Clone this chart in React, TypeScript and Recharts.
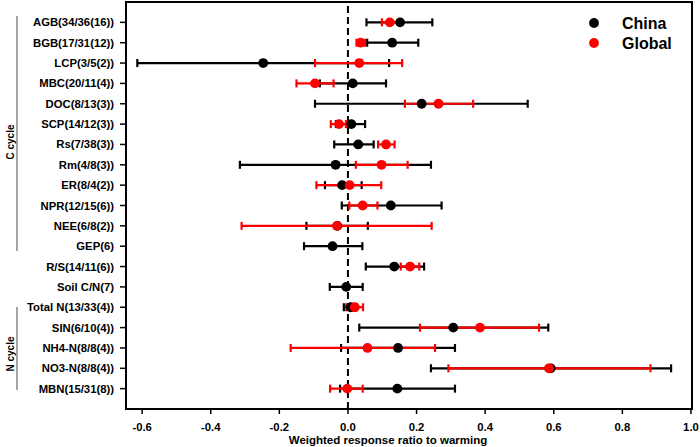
import React from "react";
import {
  ScatterChart,
  Scatter,
  XAxis,
  YAxis,
  ErrorBar,
  ReferenceLine,
  ReferenceArea,
} from "recharts";

const categories = [
  "AGB(34/36(16))",
  "BGB(17/31(12))",
  "LCP(3/5(2))",
  "MBC(20/11(4))",
  "DOC(8/13(3))",
  "SCP(14/12(3))",
  "Rs(7/38(3))",
  "Rm(4/8(3))",
  "ER(8/4(2))",
  "NPR(12/15(6))",
  "NEE(6/8(2))",
  "GEP(6)",
  "R/S(14/11(6))",
  "Soil C/N(7)",
  "Total N(13/33(4))",
  "SIN(6/10(4))",
  "NH4-N(8/8(4))",
  "NO3-N(8/8(4))",
  "MBN(15/31(8))",
];

const chinaMean = [0.152, 0.129, -0.247, 0.014, 0.215, 0.010, 0.030, -0.036, -0.017, 0.125, -0.031, -0.045, 0.135, -0.005, 0.008, 0.307, 0.146, 0.591, 0.144];
const chinaLow = [0.054, 0.056, -0.614, -0.082, -0.096, -0.035, -0.040, -0.315, -0.067, -0.018, -0.121, -0.128, 0.052, -0.053, -0.012, 0.033, -0.020, 0.242, -0.023];
const chinaHigh = [0.246, 0.205, 0.120, 0.111, 0.524, 0.050, 0.075, 0.242, 0.040, 0.273, 0.058, 0.042, 0.222, 0.043, 0.026, 0.584, 0.312, 0.942, 0.312];

const globalMean: (number | null)[] = [0.122, 0.037, 0.033, -0.096, 0.264, -0.026, 0.111, 0.098, 0.005, 0.043, -0.032, null, 0.181, null, 0.020, 0.385, 0.057, 0.586, -0.002];
const globalLow: (number | null)[] = [0.099, 0.025, -0.096, -0.150, 0.166, -0.050, 0.088, 0.023, -0.092, 0.004, -0.310, null, 0.154, null, -0.005, 0.210, -0.167, 0.293, -0.052];
const globalHigh: (number | null)[] = [0.152, 0.050, 0.158, -0.042, 0.365, -0.006, 0.136, 0.174, 0.097, 0.086, 0.244, null, 0.208, null, 0.044, 0.557, 0.254, 0.882, 0.043];

const xTicks = [-0.6, -0.4, -0.2, 0.0, 0.2, 0.4, 0.6, 0.8, 1.0];
const seriesNames = ["China", "Global"];
const seriesColors = ["#000000", "#ff0000"];

const yTicks = categories.map((_, i) => i + 1);

const chinaData = categories.map((c, i) => ({
  name: c,
  y: i + 1,
  x: chinaMean[i],
  err: [chinaMean[i] - chinaLow[i], chinaHigh[i] - chinaMean[i]],
}));

const globalData = categories
  .map((c, i) => ({ c, i }))
  .filter(({ i }) => globalMean[i] !== null)
  .map(({ c, i }) => ({
    name: c,
    y: i + 1,
    x: globalMean[i] as number,
    err: [
      (globalMean[i] as number) - (globalLow[i] as number),
      (globalHigh[i] as number) - (globalMean[i] as number),
    ],
  }));

const FONT = "'Liberation Sans', Arial, sans-serif";

const X_MIN = -0.647;
const X_MAX = 1.003;

const Hidden = () => <g />;
const dot = (color: string) => (props: any) => (
  <circle cx={props.cx} cy={props.cy} r={4.9} fill={color} />
);

export default function App() {
  return (
    <div style={{ position: "absolute", left: 0, top: 0, width: 700, height: 447, background: "#fff" }}>
      <ScatterChart
        width={700}
        height={447}
        margin={{ top: 2, right: 8, bottom: 0, left: 0 }}
      >
        <XAxis
          type="number"
          dataKey="x"
          domain={[X_MIN, X_MAX]}
          ticks={xTicks}
          allowDataOverflow
          tickFormatter={(v: number) => v.toFixed(1)}
          axisLine={false}
          tickSize={5}
          tickMargin={9}
          tickLine={{ stroke: "#000", strokeWidth: 1.5 }}
          tick={{ fill: "#000", fontSize: 11.3, fontWeight: "bold", fontFamily: FONT }}
          height={38}
          label={{
            content: () => (
              <text
                x={388}
                y={444}
                textAnchor="middle"
                fill="#000"
                fontSize={11.5}
                fontWeight="bold"
                fontFamily={FONT}
              >
                Weighted response ratio to warming
              </text>
            ),
          }}
        />
        <YAxis
          type="number"
          dataKey="y"
          domain={[0, 20]}
          reversed
          ticks={yTicks}
          interval={0}
          allowDataOverflow
          tickFormatter={(v: number) => categories[v - 1] ?? ""}
          axisLine={false}
          width={126}
          tickSize={6}
          tickMargin={6}
          tickLine={{ stroke: "#000", strokeWidth: 1.5 }}
          tick={{ fill: "#000", fontSize: 11.3, fontWeight: "bold", fontFamily: FONT }}
        />
        <ReferenceArea
          x1={X_MIN}
          x2={X_MAX}
          y1={0}
          y2={20}
          fill="none"
          fillOpacity={0}
          stroke="#000"
          strokeWidth={2}
          ifOverflow="visible"
        />
        <ReferenceLine x={0} stroke="#000" strokeWidth={2} strokeDasharray="7 4" />
        <Scatter
          name="China-err"
          data={chinaData}
          shape={Hidden}
          legendType="none"
          isAnimationActive={false}
        >
          <ErrorBar dataKey="err" direction="x" width={4} stroke={seriesColors[0]} strokeWidth={2.2} />
        </Scatter>
        <Scatter
          name="Global-err"
          data={globalData}
          shape={Hidden}
          legendType="none"
          isAnimationActive={false}
        >
          <ErrorBar dataKey="err" direction="x" width={4} stroke={seriesColors[1]} strokeWidth={2.2} />
        </Scatter>
        <Scatter
          name={seriesNames[0]}
          data={chinaData}
          fill={seriesColors[0]}
          shape={dot(seriesColors[0])}
          isAnimationActive={false}
        />
        <Scatter
          name={seriesNames[1]}
          data={globalData}
          fill={seriesColors[1]}
          shape={dot(seriesColors[1])}
          isAnimationActive={false}
        />
      </ScatterChart>
      <svg
        width={700}
        height={447}
        style={{ position: "absolute", left: 0, top: 0, pointerEvents: "none" }}
      >
        {seriesNames.map((n, i) => (
          <g key={n}>
            <circle cx={594} cy={23 + i * 20} r={4.9} fill={seriesColors[i]} />
            <text
              x={622}
              y={23 + i * 20}
              dy="0.36em"
              fill="#000"
              fontSize={16}
              fontWeight="bold"
              fontFamily={FONT}
            >
              {n}
            </text>
          </g>
        ))}
        <line x1={17} y1={16} x2={17} y2={251} stroke="#888" strokeWidth={1.5} />
        <text
          x={0}
          y={0}
          transform="translate(10,142) rotate(-90)"
          textAnchor="middle"
          dy="0.36em"
          fill="#000"
          fontSize={10}
          fontWeight="bold"
          fontFamily={FONT}
        >
          C cycle
        </text>
        <line x1={17} y1={307} x2={17} y2={390} stroke="#888" strokeWidth={1.5} />
        <text
          x={0}
          y={0}
          transform="translate(10,354) rotate(-90)"
          textAnchor="middle"
          dy="0.36em"
          fill="#000"
          fontSize={10}
          fontWeight="bold"
          fontFamily={FONT}
        >
          N cycle
        </text>
      </svg>
    </div>
  );
}
